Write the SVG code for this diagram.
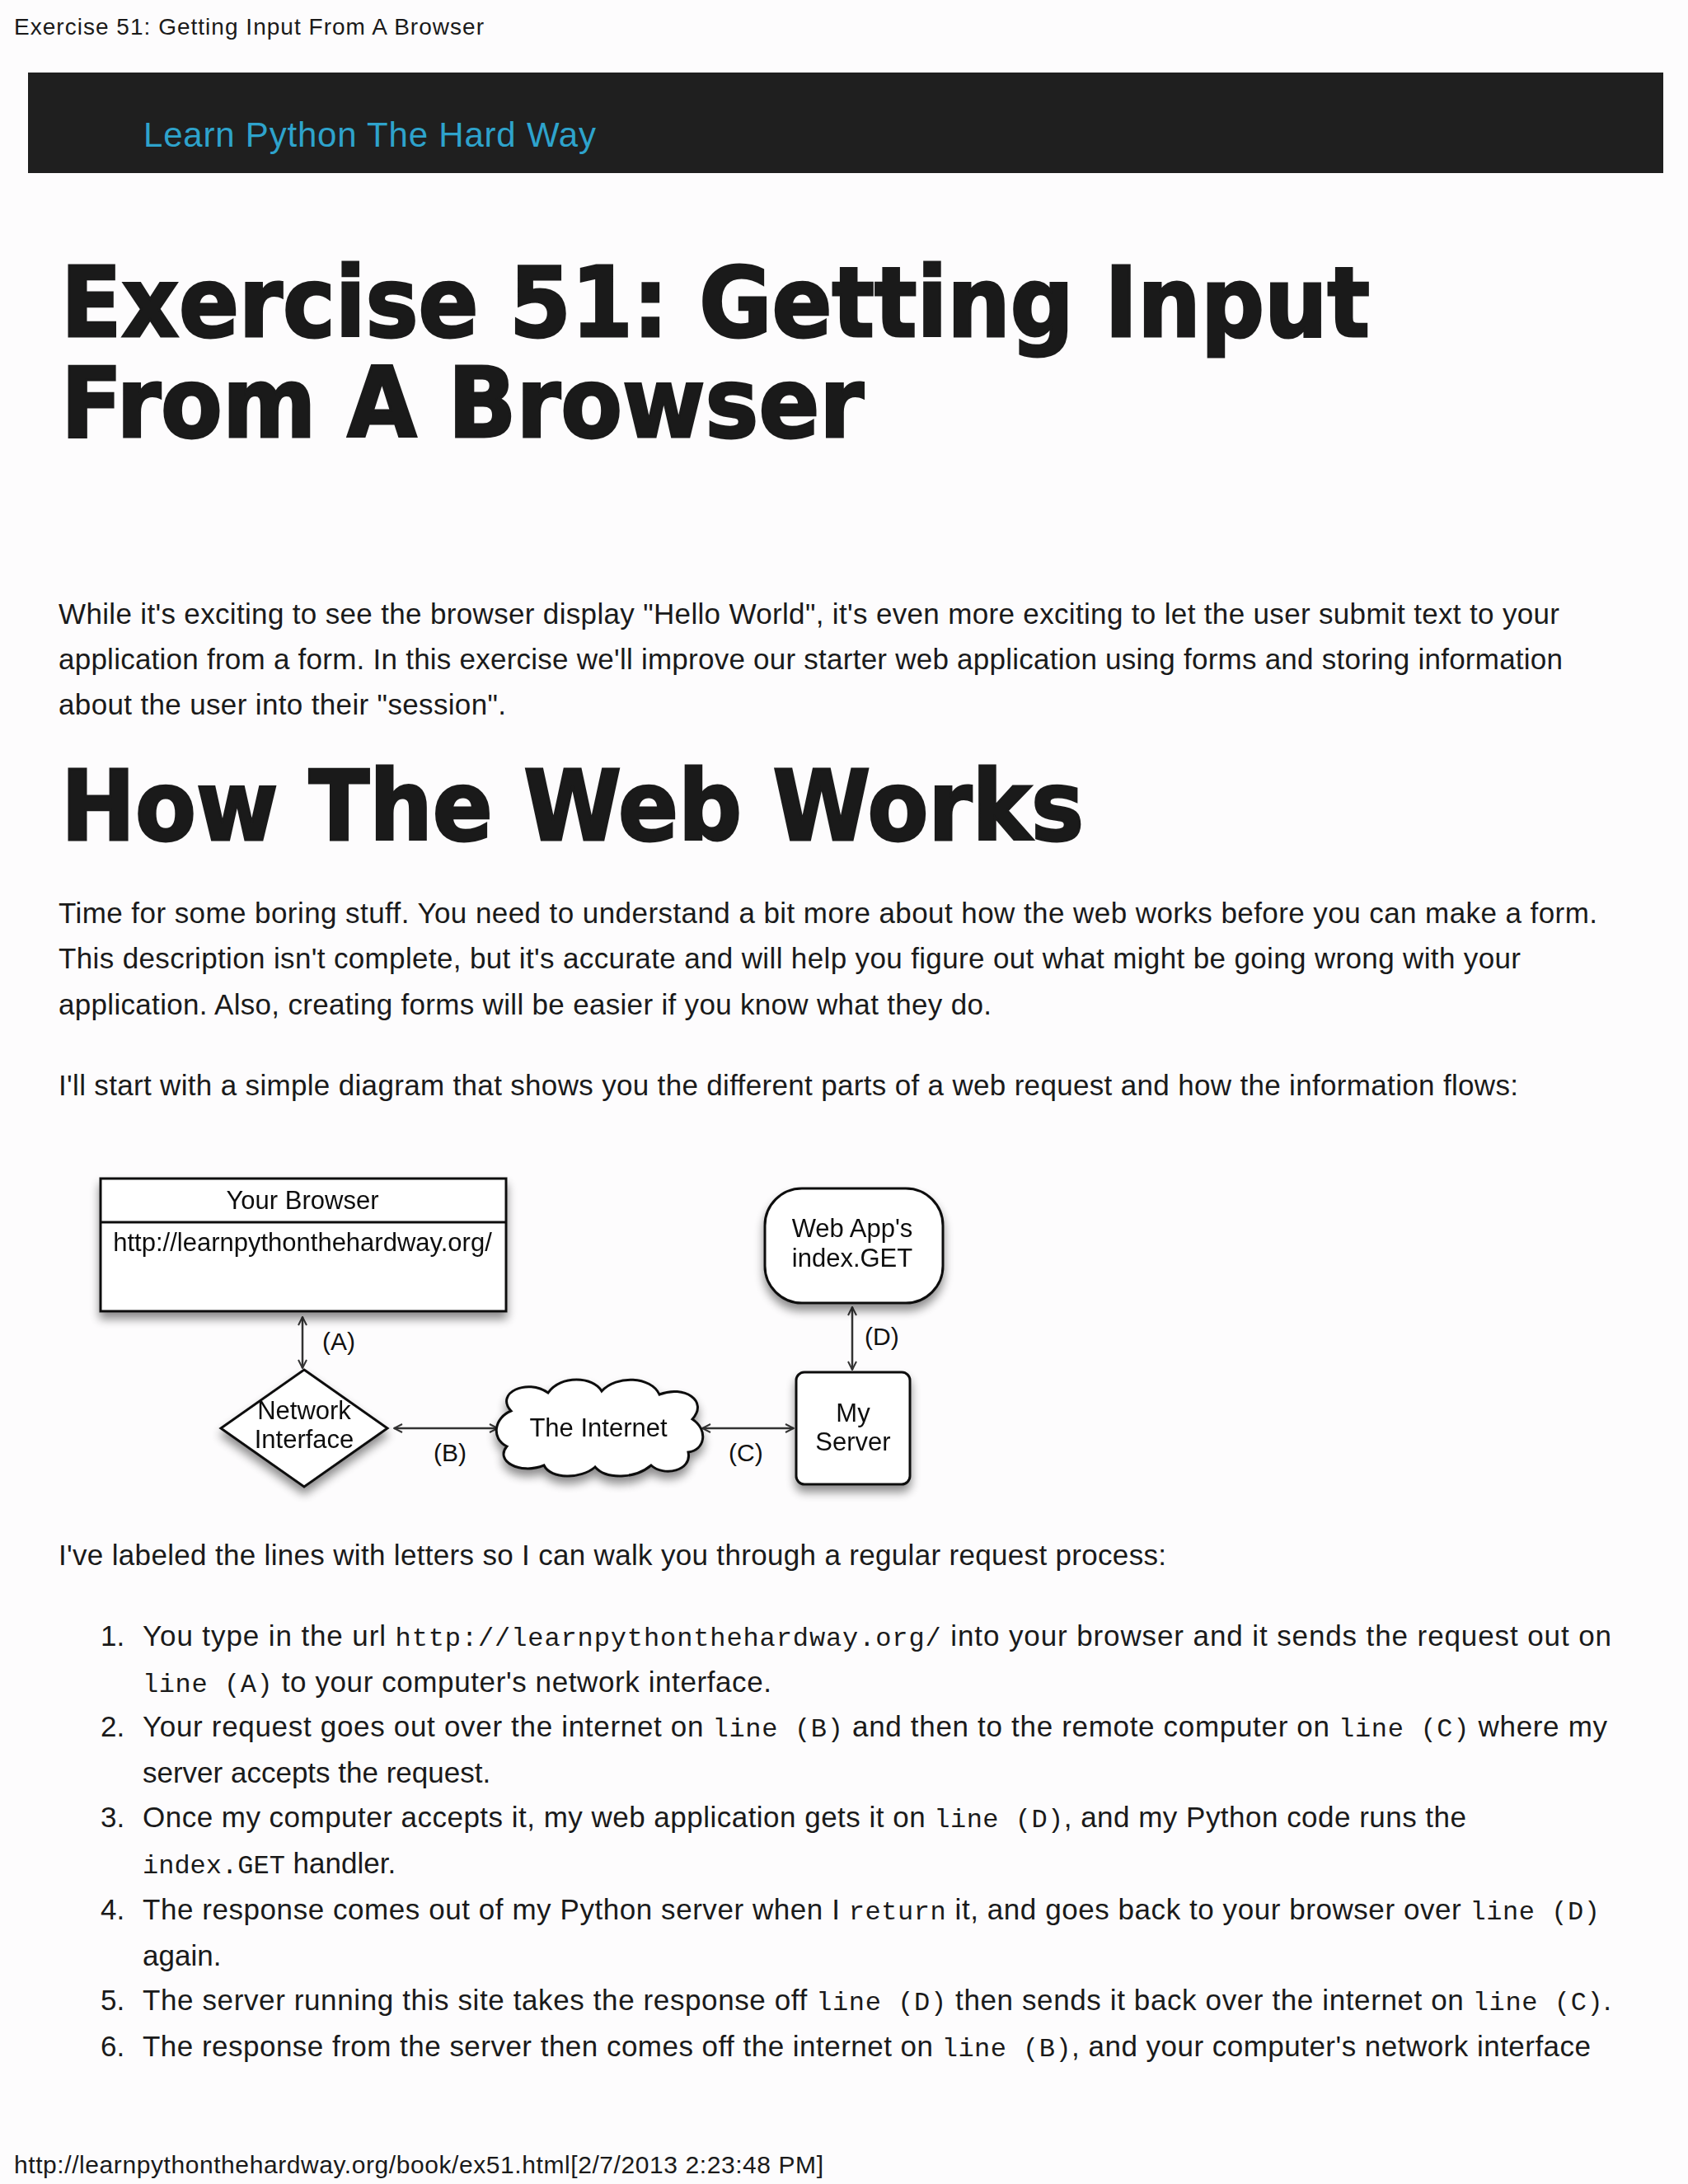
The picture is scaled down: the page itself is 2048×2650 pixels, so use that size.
<svg xmlns="http://www.w3.org/2000/svg" width="2048" height="2650" viewBox="0 0 2048 2650">
<style>
.s{font-family:"Liberation Sans",Arial,sans-serif;fill:#1a1a1a}
.b{font-size:35px}
.m{font-family:"Liberation Mono","Courier New",monospace;font-size:32px}
.h{font-family:"DejaVu Sans","Liberation Sans",sans-serif;font-weight:bold;font-size:118px;fill:#1a1a1a;stroke:#1a1a1a;stroke-width:3}
.d{font-family:"Liberation Sans",Arial,sans-serif;font-size:31px;fill:#111;text-anchor:middle}
.l{font-family:"Liberation Sans",Arial,sans-serif;font-size:30px;fill:#111}
.n{fill:#fff;stroke:#111;stroke-width:3}
.c{stroke:#333;stroke-width:2.5;fill:none;marker-start:url(#a);marker-end:url(#a)}
</style>
<defs>
<marker id="a" viewBox="0 0 12 12" refX="11" refY="6" markerWidth="12" markerHeight="12" markerUnits="userSpaceOnUse" orient="auto-start-reverse"><path d="M1,1 L11,6 L1,11" fill="none" stroke="#333" stroke-width="2"/></marker>
<filter id="sh" x="-20%" y="-20%" width="140%" height="150%"><feGaussianBlur in="SourceAlpha" stdDeviation="6"/><feOffset dx="0" dy="8"/><feComponentTransfer><feFuncA type="linear" slope="0.45"/></feComponentTransfer><feMerge><feMergeNode/><feMergeNode in="SourceGraphic"/></feMerge></filter>
</defs>
<rect width="2048" height="2650" fill="#fdfcfd"/>
<text class="s" x="17" y="42" font-size="28" textLength="570">Exercise 51: Getting Input From A Browser</text>
<rect x="34" y="88" width="1984" height="122" fill="#1f1f1f"/>
<text x="174" y="178" font-family="Liberation Sans,Arial,sans-serif" font-size="42" fill="#2ea3cc" textLength="549">Learn Python The Hard Way</text>
<text class="h" x="74" y="408" textLength="1588" lengthAdjust="spacingAndGlyphs">Exercise 51: Getting Input</text>
<text class="h" x="74" y="530" textLength="974" lengthAdjust="spacingAndGlyphs">From A Browser</text>
<text class="s b" x="71" y="757" textLength="1821">While it's exciting to see the browser display "Hello World", it's even more exciting to let the user submit text to your</text>
<text class="s b" x="71" y="812" textLength="1825">application from a form. In this exercise we'll improve our starter web application using forms and storing information</text>
<text class="s b" x="71" y="867" textLength="543">about the user into their "session".</text>
<text class="h" x="74" y="1019" textLength="1241" lengthAdjust="spacingAndGlyphs">How The Web Works</text>
<text class="s b" x="71" y="1120" textLength="1867">Time for some boring stuff. You need to understand a bit more about how the web works before you can make a form.</text>
<text class="s b" x="71" y="1175" textLength="1774">This description isn't complete, but it's accurate and will help you figure out what might be going wrong with your</text>
<text class="s b" x="71" y="1231" textLength="1132">application. Also, creating forms will be easier if you know what they do.</text>
<text class="s b" x="71" y="1329" textLength="1771">I'll start with a simple diagram that shows you the different parts of a web request and how the information flows:</text>

<g id="connectors">
<line class="c" x1="367" y1="1598" x2="367" y2="1660"/>
<line class="c" x1="478" y1="1733" x2="604" y2="1733"/>
<line class="c" x1="852" y1="1733" x2="963" y2="1733"/>
<line class="c" x1="1034" y1="1586" x2="1034" y2="1662"/>
<text class="l" x="391" y="1638">(A)</text>
<text class="l" x="526" y="1773">(B)</text>
<text class="l" x="884" y="1773">(C)</text>
<text class="l" x="1049" y="1632">(D)</text>
</g>
<g id="browser" filter="url(#sh)">
<rect class="n" x="122" y="1430" width="492" height="161"/>
<line x1="122" y1="1483" x2="614" y2="1483" stroke="#111" stroke-width="3"/>
<text class="d" x="367" y="1467">Your Browser</text>
<text class="d" x="367" y="1518">http://learnpythonthehardway.org/</text>
</g>
<g id="network" filter="url(#sh)">
<polygon class="n" points="369,1662 470,1733 369,1804 268,1733"/>
<text class="d" x="369" y="1722">Network</text>
<text class="d" x="369" y="1757">Interface</text>
</g>
<g id="internet" filter="url(#sh)">
<path class="n" d="M620,1712 C600,1690 640,1672 665,1690 C680,1668 720,1670 730,1688 C748,1668 790,1670 800,1692 C830,1680 860,1700 840,1722 C860,1735 855,1760 835,1762 C840,1785 805,1792 790,1778 C770,1795 735,1795 722,1780 C705,1795 668,1795 660,1778 C630,1790 600,1772 615,1755 C595,1745 600,1720 620,1712 Z"/>
<text class="d" x="726" y="1743">The Internet</text>
</g>
<g id="server" filter="url(#sh)">
<rect class="n" x="966" y="1665" width="138" height="136" rx="10"/>
<text class="d" x="1035" y="1725">My</text>
<text class="d" x="1035" y="1760">Server</text>
</g>
<g id="webapp" filter="url(#sh)">
<rect class="n" x="928" y="1442" width="216" height="139" rx="45"/>
<text class="d" x="1034" y="1501">Web App's</text>
<text class="d" x="1034" y="1537">index.GET</text>
</g>

<text class="s b" x="71" y="1899" textLength="1344">I've labeled the lines with letters so I can walk you through a regular request process:</text>
<g class="s b">
<text x="122" y="1997">1.</text>
<text x="173" y="1997" textLength="1782">You type in the url <tspan class="m">http://learnpythonthehardway.org/</tspan> into your browser and it sends the request out on</text>
<text x="173" y="2053" textLength="763"><tspan class="m">line (A)</tspan> to your computer's network interface.</text>
<text x="122" y="2107">2.</text>
<text x="173" y="2107" textLength="1777">Your request goes out over the internet on <tspan class="m">line (B)</tspan> and then to the remote computer on <tspan class="m">line (C)</tspan> where my</text>
<text x="173" y="2163">server accepts the request.</text>
<text x="122" y="2217">3.</text>
<text x="173" y="2217" textLength="1606">Once my computer accepts it, my web application gets it on <tspan class="m">line (D)</tspan>, and my Python code runs the</text>
<text x="173" y="2273"><tspan class="m">index.GET</tspan> handler.</text>
<text x="122" y="2329">4.</text>
<text x="173" y="2329" textLength="1768">The response comes out of my Python server when I <tspan class="m">return</tspan> it, and goes back to your browser over <tspan class="m">line (D)</tspan></text>
<text x="173" y="2385">again.</text>
<text x="122" y="2439">5.</text>
<text x="173" y="2439" textLength="1782">The server running this site takes the response off <tspan class="m">line (D)</tspan> then sends it back over the internet on <tspan class="m">line (C)</tspan>.</text>
<text x="122" y="2495">6.</text>
<text x="173" y="2495" textLength="1757">The response from the server then comes off the internet on <tspan class="m">line (B)</tspan>, and your computer's network interface</text>
</g>
<text class="s" x="17" y="2637" font-size="30" textLength="982">http://learnpythonthehardway.org/book/ex51.html[2/7/2013 2:23:48 PM]</text>
</svg>
